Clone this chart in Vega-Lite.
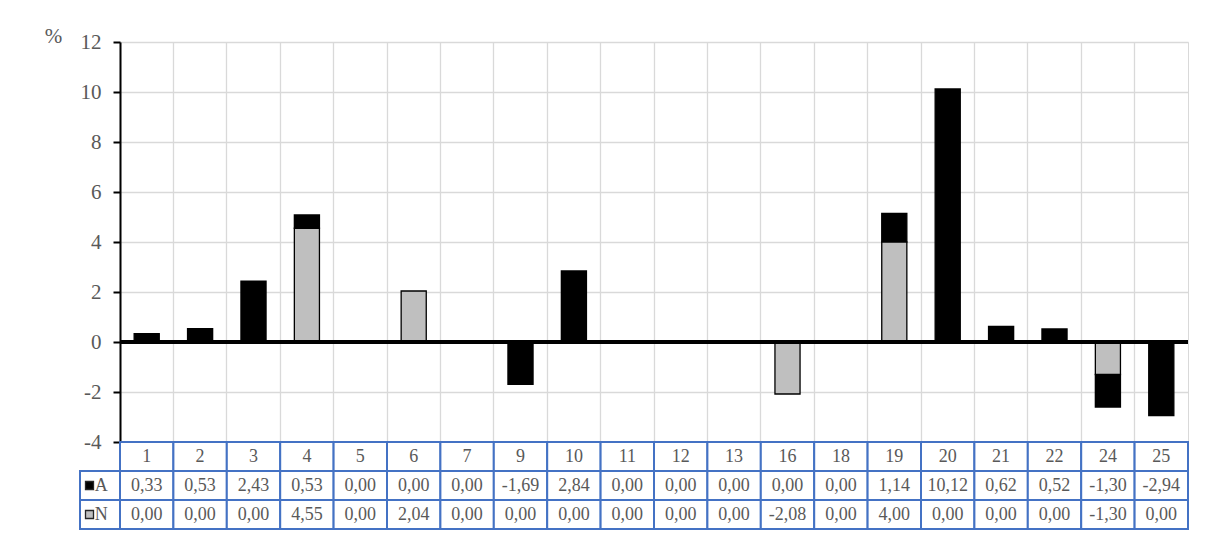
{
  "$schema": "https://vega.github.io/schema/vega-lite/v6.json",
  "width": 1068,
  "height": 400,
  "autosize": {"type": "none"},
  "padding": {"left": 120, "top": 42, "right": 18, "bottom": 94},
  "background": "white",
  "config": {
    "locale": {
      "number": {"decimal": ",", "thousands": ".", "grouping": [3], "currency": ["", ""], "minus": "-"}
    },
    "font": "Liberation Serif",
    "axis": {"labelFont": "Liberation Serif", "titleFont": "Liberation Serif"},
    "text": {"font": "Liberation Serif"},
    "view": {"stroke": "#D9D9D9", "strokeWidth": 1}
  },
  "data": {
    "values": [
      {"cat": "1", "A": 0.33, "N": 0},
      {"cat": "2", "A": 0.53, "N": 0},
      {"cat": "3", "A": 2.43, "N": 0},
      {"cat": "4", "A": 0.53, "N": 4.55},
      {"cat": "5", "A": 0, "N": 0},
      {"cat": "6", "A": 0, "N": 2.04},
      {"cat": "7", "A": 0, "N": 0},
      {"cat": "9", "A": -1.69, "N": 0},
      {"cat": "10", "A": 2.84, "N": 0},
      {"cat": "11", "A": 0, "N": 0},
      {"cat": "12", "A": 0, "N": 0},
      {"cat": "13", "A": 0, "N": 0},
      {"cat": "16", "A": 0, "N": -2.08},
      {"cat": "18", "A": 0, "N": 0},
      {"cat": "19", "A": 1.14, "N": 4.0},
      {"cat": "20", "A": 10.12, "N": 0},
      {"cat": "21", "A": 0.62, "N": 0},
      {"cat": "22", "A": 0.52, "N": 0},
      {"cat": "24", "A": -1.3, "N": -1.3},
      {"cat": "25", "A": -2.94, "N": 0}
    ]
  },
  "transform": [{"fold": ["A", "N"], "as": ["key", "value"]}],
  "layer": [
    {
      "layer": [
        {
          "transform": [{"filter": "datum.value != 0"}],
          "mark": {"type": "bar", "width": {"band": 0.47}, "stroke": "black", "strokeWidth": 1.3},
          "encoding": {
            "x": {
              "field": "cat", "type": "nominal",
              "scale": {"domain": ["1", "2", "3", "4", "5", "6", "7", "9", "10", "11", "12", "13", "16", "18", "19", "20", "21", "22", "24", "25"], "paddingInner": 0, "paddingOuter": 0},
              "axis": {"grid": true, "gridColor": "#D9D9D9", "gridWidth": 1.3, "bandPosition": 0, "domain": false, "ticks": false, "labels": false, "title": null}
            },
            "y": {
              "field": "value", "type": "quantitative", "stack": "zero",
              "scale": {"domain": [-4, 12], "nice": false, "zero": false},
              "axis": {
                "values": [-4, -2, 0, 2, 4, 6, 8, 10, 12],
                "title": "%", "titleAngle": 0, "titleX": -67, "titleY": -6, "titleAlign": "center", "titleBaseline": "middle",
                "titleFont": "Liberation Serif", "titleFontSize": 21, "titleFontWeight": "normal", "titleColor": "#595959",
                "labelFont": "Liberation Serif", "labelFontSize": 21, "labelColor": "#595959", "labelPadding": 12,
                "domainColor": "black", "domainWidth": 2, "tickColor": "black", "tickWidth": 2, "tickSize": 7,
                "grid": true, "gridColor": "#D9D9D9", "gridWidth": 1.3
              }
            },
            "color": {"field": "key", "type": "nominal", "scale": {"domain": ["A", "N"], "range": ["#000000", "#BFBFBF"]}, "legend": null},
            "order": {"field": "key", "sort": "descending"}
          }
        },
        {
          "mark": {"type": "rule", "color": "black", "strokeWidth": 2.5},
          "encoding": {"y": {"datum": 0}}
        }
      ]
    },
    {
      "layer": [
        {
          "layer": [
            {
              "mark": {"type": "rect", "fill": "white", "stroke": "#4472C4", "strokeWidth": 2},
              "encoding": {
                "x": {"field": "cat", "type": "nominal", "sort": null, "scale": {"paddingInner": 0, "paddingOuter": 0}, "axis": null},
                "y": {"field": "key", "type": "nominal", "scale": {"domain": ["cat", "A", "N"], "range": [400, 487], "paddingInner": 0, "paddingOuter": 0}, "axis": null}
              }
            },
            {
              "transform": [{"filter": "datum.key === 'A'"}],
              "mark": {"type": "rect", "fill": "white", "stroke": "#4472C4", "strokeWidth": 2},
              "encoding": {
                "x": {"field": "cat", "type": "nominal", "sort": null, "scale": {"paddingInner": 0, "paddingOuter": 0}, "axis": null},
                "y": {"datum": "cat", "type": "nominal", "scale": {"domain": ["cat", "A", "N"], "range": [400, 487], "paddingInner": 0, "paddingOuter": 0}, "axis": null}
              }
            },
            {
              "mark": {"type": "text", "font": "Liberation Serif", "fontSize": 18, "color": "#595959", "baseline": "middle", "align": "center"},
              "encoding": {
                "x": {"field": "cat", "type": "nominal", "sort": null, "scale": {"paddingInner": 0, "paddingOuter": 0}, "axis": null},
                "y": {"field": "key", "type": "nominal", "scale": {"domain": ["cat", "A", "N"], "range": [400, 487], "paddingInner": 0, "paddingOuter": 0}, "axis": null},
                "text": {"field": "value", "type": "quantitative", "format": ".2f"}
              }
            },
            {
              "transform": [{"filter": "datum.key === 'A'"}],
              "mark": {"type": "text", "font": "Liberation Serif", "fontSize": 18, "color": "#595959", "baseline": "middle", "align": "center"},
              "encoding": {
                "x": {"field": "cat", "type": "nominal", "sort": null, "scale": {"paddingInner": 0, "paddingOuter": 0}, "axis": null},
                "y": {"datum": "cat", "type": "nominal", "scale": {"domain": ["cat", "A", "N"], "range": [400, 487], "paddingInner": 0, "paddingOuter": 0}, "axis": null},
                "text": {"field": "cat", "type": "nominal"}
              }
            }
          ]
        },
        {
          "transform": [{"filter": "datum.cat === '1'"}],
          "layer": [
            {
              "mark": {"type": "rect", "fill": "white", "stroke": "#4472C4", "strokeWidth": 2},
              "encoding": {
                "x": {"datum": 0, "type": "quantitative", "scale": {"domain": [0, 1], "range": [-40, 0], "nice": false, "zero": false}, "axis": null},
                "x2": {"datum": 1},
                "y": {"field": "key", "type": "nominal", "scale": {"domain": ["cat", "A", "N"], "range": [400, 487], "paddingInner": 0, "paddingOuter": 0}, "axis": null}
              }
            },
            {
              "mark": {"type": "point", "shape": "square", "filled": true, "size": 64, "stroke": "#262626", "strokeWidth": 1.3, "opacity": 1},
              "encoding": {
                "x": {"datum": 0.2375, "type": "quantitative", "scale": {"domain": [0, 1], "range": [-40, 0], "nice": false, "zero": false}, "axis": null},
                "y": {"field": "key", "type": "nominal", "scale": {"domain": ["cat", "A", "N"], "range": [400, 487], "paddingInner": 0, "paddingOuter": 0}, "axis": null},
                "fill": {"field": "key", "type": "nominal", "scale": {"domain": ["A", "N"], "range": ["#000000", "#BFBFBF"]}, "legend": null}
              }
            },
            {
              "mark": {"type": "text", "font": "Liberation Serif", "fontSize": 18, "color": "#595959", "baseline": "middle", "align": "left"},
              "encoding": {
                "x": {"datum": 0.37, "type": "quantitative", "scale": {"domain": [0, 1], "range": [-40, 0], "nice": false, "zero": false}, "axis": null},
                "y": {"field": "key", "type": "nominal", "scale": {"domain": ["cat", "A", "N"], "range": [400, 487], "paddingInner": 0, "paddingOuter": 0}, "axis": null},
                "text": {"field": "key", "type": "nominal"}
              }
            }
          ],
          "resolve": {"scale": {"fill": "independent"}}
        }
      ],
      "resolve": {"scale": {"x": "independent"}}
    }
  ],
  "resolve": {"scale": {"y": "independent", "color": "independent"}}
}
